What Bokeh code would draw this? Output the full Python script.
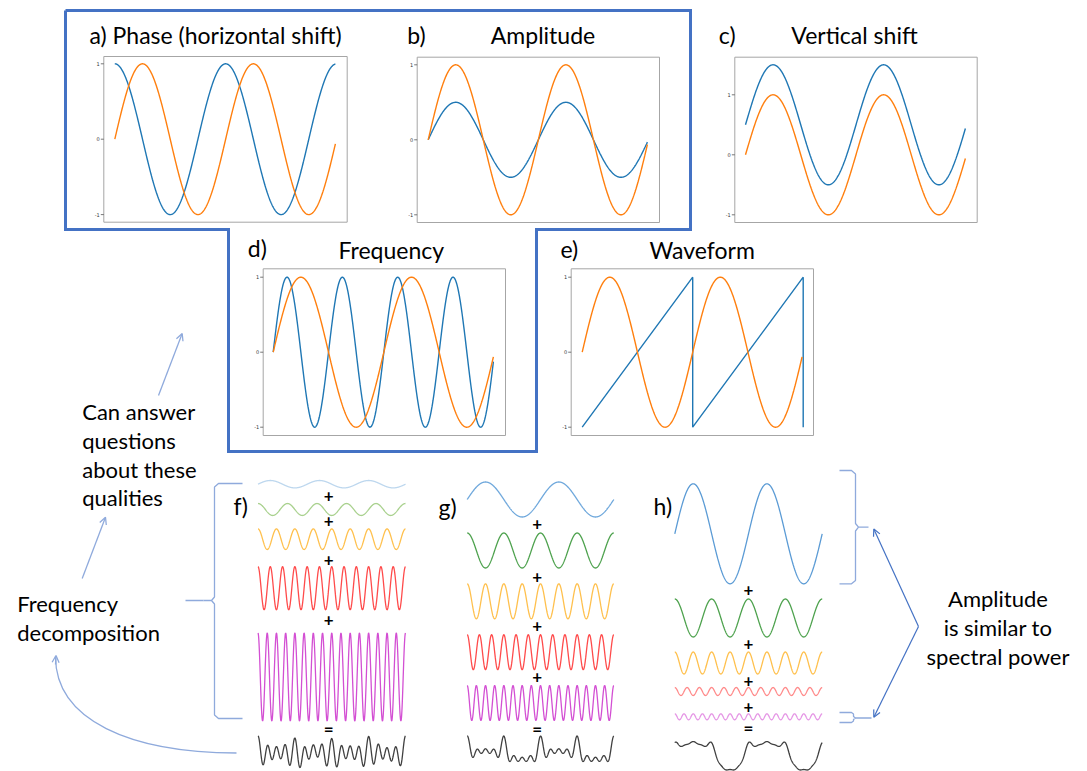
import numpy as np
from bokeh.plotting import figure
from bokeh.models import Range1d, Arrow, OpenHead
from bokeh.embed import file_html
from bokeh.resources import INLINE
from bokeh.core.properties import value

# ---------------- data ----------------
# upper panels a-e : two series each (blue, orange)
PANEL_LABELS = ["a)", "b)", "c)", "d)", "e)"]
PANEL_TITLES = ["Phase (horizontal shift)", "Amplitude", "Vertical shift", "Frequency", "Waveform"]
BLUE_SHAPE = ["cos", "sin", "sin", "sin", "saw"]
BLUE_CYCLES = [2, 2, 2, 4, 2]
BLUE_AMP = [1.0, 0.5, 1.0, 1.0, 1.0]
BLUE_OFFSET = [0.0, 0.0, 0.5, 0.0, 0.0]
ORANGE_SHAPE = ["sin", "sin", "sin", "sin", "sin"]
ORANGE_CYCLES = [2, 2, 2, 2, 2]
ORANGE_AMP = [1.0, 1.0, 1.0, 1.0, 1.0]
ORANGE_OFFSET = [0.0, 0.0, 0.0, 0.0, 0.0]
TICK_VALUES = [-1, 0, 1]
TICK_LABELS = ["-1", "0", "1"]

# lower panels f-h : five components and their sum
COMP_SHAPE = ["sin", "cos", "cos", "cos", "cos"]
F_CYCLES = [3, 5, 8, 12, 16]
F_AMPS = [0.084, 0.136, 0.234, 0.49, 1.0]
G_CYCLES = [2, 4, 8, 12, 16]
G_AMPS = [1.0, 1.0, 1.0, 1.0, 1.0]
H_CYCLES = [2, 4, 8, 12, 16]
H_AMPS = [1.0, 0.38, 0.22, 0.08, 0.06]

# ---------------- layout / style ----------------
W, H = 1087, 771
FONT = value("Lato")
BLUE, ORANGE = "#1f77b4", "#ff7f0e"
FRAME = "#4472c4"
LIGHT = "#8faadc"
TITLE_SIZE = value("23px")
TEXT_SIZE = value("22px")

# panel geometry: box(l, r, top, bottom), curve x (start, end), pixel of y=0 and y=1
PANEL_BOX = [(103.3, 346.7, 56.0, 221.7), (416.7, 659.0, 56.7, 222.0), (734.3, 976.7, 56.7, 222.0),
             (262.7, 505.0, 268.3, 435.0), (570.7, 813.0, 268.3, 435.0)]
PANEL_X = [(114.3, 336.0), (427.7, 648.0), (745.0, 966.0), (272.7, 494.0), (581.7, 802.7)]
PANEL_Y = [(138.7, 63.3), (139.3, 64.3), (154.3, 94.3), (351.7, 276.7), (351.7, 276.7)]
LABEL_POS = [(89, 34), (406.7, 34), (718.3, 34), (247.3, 247.5), (560, 248)]
TITLE_POS = [(None, 34), (542.5, 34), (854, 34), (390.8, 249.5), (701.7, 249)]

p = figure(width=W, height=H, x_range=Range1d(0, W), y_range=Range1d(H, 0),
           output_backend="svg", toolbar_location=None, min_border=0,
           x_axis_location=None, y_axis_location=None)
p.grid.visible = False
p.outline_line_color = None
p.background_fill_color = "white"
p.border_fill_color = "white"


def wave(shape, cycles, t):
    if shape == "sin":
        return np.sin(2 * np.pi * cycles * t)
    return np.cos(2 * np.pi * cycles * t)


def saw(cycles):
    xs, ys = [], []
    for k in range(cycles):
        xs += [k / cycles, (k + 1) / cycles, (k + 1) / cycles]
        ys += [-1.0, 1.0, -1.0]
    return np.array(xs), np.array(ys)


T = np.linspace(0, 0.995, 500)

# outline polygon around a, b, d
p.line([65, 690, 690, 536, 536, 228, 228, 65, 65], [10, 10, 229, 229, 451, 451, 229, 229, 10],
       line_color=FRAME, line_width=3, line_join="miter")

for i in range(5):
    l, r, tp, bt = PANEL_BOX[i]
    x0, x1 = PANEL_X[i]
    yz, yo = PANEL_Y[i]
    def px(t):
        return x0 + (x1 - x0) * np.asarray(t)
    def py(v):
        return yz - (yz - yo) * np.asarray(v)
    p.quad(left=[l], right=[r], top=[tp], bottom=[bt], fill_color=None,
           line_color="#a6a6a6", line_width=1)
    for tv, tl in zip(TICK_VALUES, TICK_LABELS):
        yy = float(py(tv))
        p.segment(x0=[l - 3], y0=[yy], x1=[l], y1=[yy], line_color="#555555", line_width=0.8)
        p.text(x=[l - 4], y=[yy], text=[tl], text_font=value("DejaVu Sans"),
               text_font_size=value("5px"), text_align="right", text_baseline="middle",
               text_color="#333333")
    # blue
    if BLUE_SHAPE[i] == "saw":
        bx, by = saw(BLUE_CYCLES[i])
    else:
        bx = T
        by = BLUE_AMP[i] * wave(BLUE_SHAPE[i], BLUE_CYCLES[i], T) + BLUE_OFFSET[i]
    p.line(px(bx), py(by), line_color=BLUE, line_width=1.4)
    oy = ORANGE_AMP[i] * wave(ORANGE_SHAPE[i], ORANGE_CYCLES[i], T) + ORANGE_OFFSET[i]
    p.line(px(T), py(oy), line_color=ORANGE, line_width=1.4)
    # titles
    lx, ly = LABEL_POS[i]
    if TITLE_POS[i][0] is None:
        p.text(x=[lx], y=[ly], text=[PANEL_LABELS[i] + " " + PANEL_TITLES[i]], text_font=FONT,
               text_font_size=TITLE_SIZE, text_align="left", text_baseline="middle", text_color="black")
    else:
        p.text(x=[lx], y=[ly], text=[PANEL_LABELS[i]], text_font=FONT,
               text_font_size=TITLE_SIZE, text_align="left", text_baseline="middle", text_color="black")
        tx, ty = TITLE_POS[i]
        p.text(x=[tx], y=[ty], text=[PANEL_TITLES[i]], text_font=FONT,
               text_font_size=TITLE_SIZE, text_align="center", text_baseline="middle", text_color="black")

# ---------------- lower decomposition panels ----------------
COLS = [
    dict(lab="f)", lab_pos=(233, 505), cycles=F_CYCLES, amps=F_AMPS, x=(257.5, 405.0), unit=44.0,
         centers=[483.7, 509.0, 538.7, 587.7, 676.5], plus_x=328.3, plus_y=[495, 520.7, 559.3, 619.3], eq_y=728.3,
         colors=["#bdd7ee", "#a9d18e", "#ffc04d", "#ff4b4b", "#d34fd3"]),
    dict(lab="g)", lab_pos=(438, 506.7), cycles=G_CYCLES, amps=G_AMPS, x=(466.7, 613.3), unit=17.5,
         centers=[499.0, 550.0, 600.8, 651.7, 702.5], plus_x=536.7, plus_y=[523.3, 576, 625, 676.7], eq_y=727.7,
         colors=["#6fa8dc", "#4ea24e", "#ffc04d", "#ff4b4b", "#d34fd3"]),
    dict(lab="h)", lab_pos=(653, 505), cycles=H_CYCLES, amps=H_AMPS, x=(674.3, 821.7), unit=50.0,
         centers=[533.3, 617.5, 662.5, 691.0, 716.3], plus_x=748.0, plus_y=[589.3, 643.3, 680, 706], eq_y=726.7,
         colors=["#5b9bd5", "#4ea24e", "#ffc04d", "#ff8a8a", "#e596e5"]),
]
TB = np.linspace(0, 1, 700)
SUM_CENTER, SUM_HALF = 752.5, 17.0
for c in COLS:
    x0, x1 = c["x"]
    xs = x0 + (x1 - x0) * TB
    total = np.zeros_like(TB)
    for k in range(5):
        comp = c["amps"][k] * wave(COMP_SHAPE[k], c["cycles"][k], TB)
        total += comp
        p.line(xs, c["centers"][k] - c["unit"] * comp, line_color=c["colors"][k], line_width=1.3)
    total = total / np.max(np.abs(total))
    p.line(xs, SUM_CENTER - SUM_HALF * total, line_color="#404040", line_width=1.3)
    p.text(x=[c["plus_x"]] * 4, y=c["plus_y"], text=["+"] * 4, text_font=FONT, text_font_size=value("17px"),
           text_font_style="bold", text_align="center", text_baseline="middle", text_color="black")
    p.text(x=[c["plus_x"]], y=[c["eq_y"]], text=["="], text_font=FONT, text_font_size=value("17px"),
           text_font_style="bold", text_align="center", text_baseline="middle", text_color="black")
    p.text(x=[c["lab_pos"][0]], y=[c["lab_pos"][1]], text=[c["lab"]], text_font=FONT,
           text_font_size=TITLE_SIZE, text_align="left", text_baseline="middle", text_color="black")

# ---------------- braces ----------------
p.line([242, 218, 214, 214, 211, 203, 211, 214, 214, 218, 242],
       [483, 483, 486.5, 596.5, 600, 600, 600, 603.5, 714.5, 718, 718], line_color=LIGHT, line_width=1.3)
p.line([185, 203], [600, 600], line_color=LIGHT, line_width=1.3)
p.line([839, 851, 855, 855, 858, 868, 858, 855, 855, 851, 839],
       [470, 470, 473.5, 523, 526.7, 526.7, 526.7, 530.5, 580, 583.3, 583.3], line_color=LIGHT, line_width=1.3)
p.line([839, 851, 853, 853, 855, 871, 855, 853, 853, 851, 839],
       [712, 712, 713.5, 716, 717.5, 717.5, 717.5, 719, 720.5, 722, 722], line_color=LIGHT, line_width=1.3)

# ---------------- arrows ----------------
def arrow(xa, ya, xb, yb, color, w=1.3, size=7):
    p.add_layout(Arrow(x_start=xa, y_start=ya, x_end=xb, y_end=yb, line_color=color, line_width=w,
                       end=OpenHead(size=size, line_color=color, line_width=w)))

arrow(158, 395, 181.7, 333, LIGHT)
arrow(81.7, 578, 105, 516.7, LIGHT)
arrow(918, 626, 873.3, 528.5, FRAME, 1.2)
arrow(918, 626, 873.3, 716.7, FRAME, 1.2)
p.bezier(x0=[236], y0=[752.5], x1=[55], y1=[656], cx0=[130], cy0=[752], cx1=[55], cy1=[720],
         line_color=LIGHT, line_width=1.3)
arrow(55, 664, 55.5, 655, LIGHT)

# ---------------- side texts ----------------
LEFT_TEXT = ["Can answer", "questions", "about these", "qualities"]
LEFT_Y = [411, 440, 468.5, 497]
p.text(x=[81.7] * 4, y=LEFT_Y, text=LEFT_TEXT, text_font=FONT, text_font_size=TEXT_SIZE,
       text_align="left", text_baseline="middle", text_color="black")
DECOMP_TEXT = ["Frequency", "decomposition"]
p.text(x=[16.7] * 2, y=[603, 631.7], text=DECOMP_TEXT, text_font=FONT, text_font_size=TEXT_SIZE,
       text_align="left", text_baseline="middle", text_color="black")
RIGHT_TEXT = ["Amplitude", "is similar to", "spectral power"]
p.text(x=[997.5] * 3, y=[598.3, 626.7, 655.7], text=RIGHT_TEXT, text_font=FONT, text_font_size=TEXT_SIZE,
       text_align="center", text_baseline="middle", text_color="black")

open("out.html", "w").write(file_html(p, INLINE))
